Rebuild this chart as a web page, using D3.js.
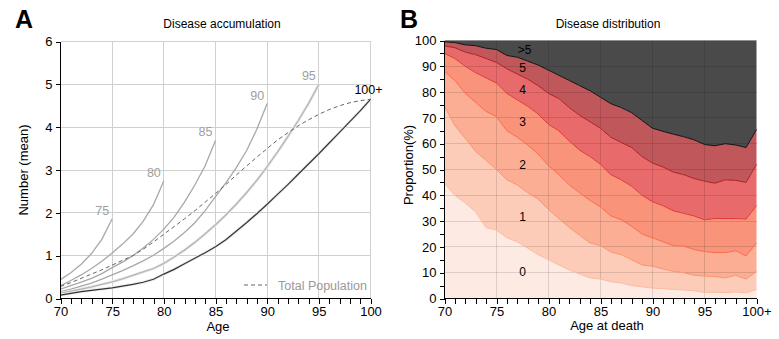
<!DOCTYPE html>
<html>
<head>
<meta charset="utf-8">
<title>Disease accumulation / distribution</title>
<script src="https://d3js.org/d3.v7.min.js"></script>
<style>
body{ margin:0; background:#fff; }
svg text{ font-family: "Liberation Sans", Arial, sans-serif; }
.axis path, .axis line{ stroke:#000; shape-rendering:crispEdges; }
.axis text{ font-size:13px; fill:#000; }
</style>
</head>
<body>
<svg id="chart" width="779" height="339"></svg>
<script>
// ---- panel A: mean number of diseases by age, one curve per age at death ----
var ages = d3.range(70, 101);
var age75 = [0.44,0.6,0.8,1.05,1.38,1.86];
var age80 = [0.3,0.42,0.55,0.7,0.87,1.06,1.27,1.5,1.8,2.19,2.75];
var age85 = [0.22,0.3,0.38,0.47,0.58,0.72,0.85,1.0,1.18,1.38,1.62,1.9,2.25,2.65,3.1,3.69];
var age90 = [0.16,0.22,0.29,0.36,0.45,0.55,0.65,0.76,0.88,1.01,1.17,1.34,1.54,1.77,2.05,2.38,2.7,3.05,3.45,3.95,4.55];
var age95 = [0.12,0.17,0.22,0.27,0.33,0.39,0.46,0.54,0.62,0.7,0.82,0.97,1.13,1.31,1.51,1.72,1.95,2.2,2.47,2.76,3.08,3.42,3.78,4.15,4.55,5.0];
var age100 = [0.08,0.12,0.16,0.19,0.22,0.25,0.29,0.33,0.38,0.45,0.57,0.68,0.81,0.94,1.07,1.21,1.37,1.57,1.77,1.98,2.2,2.43,2.66,2.9,3.14,3.38,3.63,3.88,4.13,4.38,4.65];
var totalPop = [0.28,0.37,0.47,0.57,0.67,0.78,0.89,1.0,1.15,1.32,1.5,1.68,1.86,2.05,2.25,2.45,2.66,2.88,3.09,3.3,3.5,3.7,3.87,4.03,4.17,4.3,4.41,4.5,4.57,4.62,4.65];
var curveLabels = ["75","80","85","90","95","100+"];

// ---- panel B: cumulative share (%) with at most k diseases, by age at death ----
var upTo0 = [44.6,40,37,33.5,27.5,26.5,23.5,22,19.5,17,15,13,11,9.5,8,7.5,6.5,6,5,4.5,4,3.8,3.5,3.3,3,2.3,2.4,2.3,2.5,2.2,3.5];
var upTo1 = [74.4,67,62,57,53.5,50,46,44,41,38.5,34.5,31,27.5,24.5,21.5,20.5,18,17,15,13,12.5,11.5,10.5,10,9,8.7,8.5,8,9,7.5,10.5];
var upTo2 = [88,84.5,79.5,76,72.5,70.5,65,62.5,59.5,56,51.5,48,44,41,38,35.5,32,30.5,28,25,23.5,22,20.5,20.3,19,18.2,17.8,17.8,18.5,16.5,21.5];
var upTo3 = [95,93,90,87.5,85.5,83.5,79.5,77,74.5,71.5,67.5,65,61,57.5,55,52,48,46,43.5,40,37.5,36,34,33,32,30.5,31,31,31,30.8,36];
var upTo4 = [97.9,97.2,95.5,94.5,93,91.5,89,87,85,82.5,79.5,77.5,74,71,68.5,66,62.5,60.5,58.5,55,52.5,51,49,48,46.5,45.5,44.7,46,45.8,45,52];
var upTo5 = [99.5,99.2,98.3,98,97,96.5,94.2,93.5,92,90.5,88.5,86.5,84.5,82.5,80.5,78,75.5,74,72,69,66,64.8,63.7,62.7,61.5,59.7,59.2,60,59.5,58.5,65.5];
var bandLabels = ["0","1","2","3","4","5",">5"];

var svg = d3.select("#chart");

/******** PANEL A ********/
var xA = d3.scaleLinear().domain([70,100]).range([60.5,370.5]);
var yA = d3.scaleLinear().domain([0,6]).range([298.5,41.5]);

var gA = svg.append("g");

// grid
gA.selectAll(".vg").data([75,80,85,90,95,100]).enter().append("line")
	.attr("x1", d => xA(d)).attr("x2", d => xA(d))
	.attr("y1", yA(0)).attr("y2", yA(6))
	.attr("stroke", "#d0d0d0").attr("shape-rendering","crispEdges");
gA.selectAll(".hg").data([1,2,3,4,5,6]).enter().append("line")
	.attr("x1", xA(70)).attr("x2", xA(100))
	.attr("y1", d => yA(d)).attr("y2", d => yA(d))
	.attr("stroke", "#d0d0d0").attr("shape-rendering","crispEdges");

var lineA = d3.line().x((d,i) => xA(70+i)).y(d => yA(d));

var series = [age75, age80, age85, age90, age95, age100];
series.forEach(function(s, k){
	var last = k === series.length-1;
	if(k >= 4){
		// faint band round the longer curves
		gA.append("path").datum(s).attr("d", lineA)
			.attr("fill","none").attr("stroke","#ececec").attr("stroke-width",3);
	}
	gA.append("path").datum(s).attr("d", lineA)
		.attr("fill","none")
		.attr("stroke", last ? "#333" : (k === 4 ? "#b4b4b4" : "#a8a8a8"))
		.attr("stroke-width", last ? 1.2 : 1.3);
	var endAge = 70 + s.length - 1;
	gA.append("text")
		.attr("x", xA(endAge) - (last ? 2 : 10))
		.attr("y", yA(s[s.length-1]) - (last ? 5 : 4))
		.attr("text-anchor","middle")
		.style("font-size","12.5px")
		.attr("fill", last ? "#000" : "#a0a0a0")
		.text(curveLabels[k]);
});

gA.append("path").datum(totalPop).attr("d", lineA)
	.attr("fill","none").attr("stroke","#666").attr("stroke-width",1)
	.attr("stroke-dasharray","4,3");

// legend
gA.append("line").attr("x1",244).attr("x2",267).attr("y1",285).attr("y2",285)
	.attr("stroke","#666").attr("stroke-dasharray","4,3");
gA.append("text").attr("x",278).attr("y",289.5)
	.style("font-size","12.5px").attr("fill","#999").text("Total Population");

// axes
gA.append("g").attr("class","axis")
	.attr("transform","translate(0," + yA(0) + ")")
	.call(d3.axisBottom(xA).tickValues(d3.range(70,101)).tickSize(5)
		.tickFormat(d => d % 5 === 0 ? d : ""))
	.call(g => g.select(".domain").attr("d", "M" + xA(70) + ",0H" + xA(100)));
gA.append("g").attr("class","axis")
	.attr("transform","translate(" + xA(70) + ",0)")
	.call(d3.axisLeft(yA).ticks(6).tickSize(5))
	.call(g => g.select(".domain").attr("d", "M0," + yA(6) + "V" + yA(0)));

gA.append("text").attr("x", 222).attr("y", 28).attr("text-anchor","middle")
	.style("font-size","12px").text("Disease accumulation");
gA.append("text").attr("x", 218).attr("y", 331).attr("text-anchor","middle")
	.style("font-size","13px").text("Age");
gA.append("text").attr("transform","translate(28,170) rotate(-90)")
	.attr("text-anchor","middle").style("font-size","13px").text("Number (mean)");
gA.append("text").attr("x",15).attr("y",28).style("font-size","25px")
	.style("font-weight","bold").text("A");

/******** PANEL B ********/
var xB = d3.scaleLinear().domain([70,100]).range([444.5,756.5]);
var yB = d3.scaleLinear().domain([0,100]).range([298.5,40.5]);
var gB = svg.append("g");

var zeros = ages.map(() => 0);
var hundreds = ages.map(() => 100);
var bounds = [zeros, upTo0, upTo1, upTo2, upTo3, upTo4, upTo5, hundreds];
var fills = ["#fdebe3","#fdccb8","#fcae94","#f9937a","#e86a6a","#c0575a","#4a4a4a"];
var edges = ["#fcbba1","#fc9272","#fb6a4a","#e0393a","#b01e24","#111"];

var areaB = d3.area()
	.x(d => xB(d.age))
	.y0(d => yB(d.lo))
	.y1(d => yB(d.hi));

for(var k = 0; k < 7; k++){
	var pts = ages.map((a,i) => ({age:a, lo:bounds[k][i], hi:bounds[k+1][i]}));
	gB.append("path").datum(pts).attr("d", areaB).attr("fill", fills[k]);
}

// grid over the bands
gB.selectAll(".vg").data([75,80,85,90,95]).enter().append("line")
	.attr("x1", d => xB(d)).attr("x2", d => xB(d))
	.attr("y1", yB(0)).attr("y2", yB(100))
	.attr("stroke","#000").attr("stroke-opacity",0.12).attr("shape-rendering","crispEdges");
gB.selectAll(".hg").data(d3.range(10,101,10)).enter().append("line")
	.attr("x1", xB(70)).attr("x2", xB(100))
	.attr("y1", d => yB(d)).attr("y2", d => yB(d))
	.attr("stroke","#000").attr("stroke-opacity",0.12).attr("shape-rendering","crispEdges");

var lineB = d3.line().x((d,i) => xB(70+i)).y(d => yB(d));
for(var k = 1; k <= 6; k++){
	gB.append("path").datum(bounds[k]).attr("d", lineB)
		.attr("fill","none").attr("stroke", edges[k-1]).attr("stroke-width",1);
}

// band labels at the middle of each band, age 77.5
var labelAge = 77.5;
function at(arr, a){
	var i = Math.floor(a - 70), t = a - 70 - i;
	return arr[i] * (1-t) + arr[i+1] * t;
}
bandLabels.forEach(function(lab, k){
	var mid = (at(bounds[k], labelAge) + at(bounds[k+1], labelAge)) / 2;
	gB.append("text").attr("x", xB(labelAge) + (k === 6 ? 2 : 0)).attr("y", yB(mid) + 4)
		.attr("text-anchor","middle").style("font-size","12px").attr("fill","#000")
		.text(lab);
});

gB.append("g").attr("class","axis")
	.attr("transform","translate(0," + yB(0) + ")")
	.call(d3.axisBottom(xB).tickValues(d3.range(70,101)).tickSize(5)
		.tickFormat(d => d === 100 ? "100+" : (d % 5 === 0 ? d : "")))
	.call(g => g.select(".domain").attr("d", "M" + xB(70) + ",0H" + xB(100)));
gB.append("g").attr("class","axis")
	.attr("transform","translate(" + xB(70) + ",0)")
	.call(d3.axisLeft(yB).tickValues(d3.range(0,101,5)).tickSize(5)
		.tickFormat(d => d % 10 === 0 ? d : ""))
	.call(g => g.select(".domain").attr("d", "M0," + yB(100) + "V" + yB(0)));

gB.append("text").attr("x", 608).attr("y", 28).attr("text-anchor","middle")
	.style("font-size","12px").text("Disease distribution");
gB.append("text").attr("x", 607).attr("y", 330).attr("text-anchor","middle")
	.style("font-size","13px").text("Age at death");
gB.append("text").attr("transform","translate(413,165) rotate(-90)")
	.attr("text-anchor","middle").style("font-size","13px").text("Proportion(%)");
gB.append("text").attr("x",400).attr("y",28).style("font-size","25px")
	.style("font-weight","bold").text("B");
</script>
</body>
</html>
